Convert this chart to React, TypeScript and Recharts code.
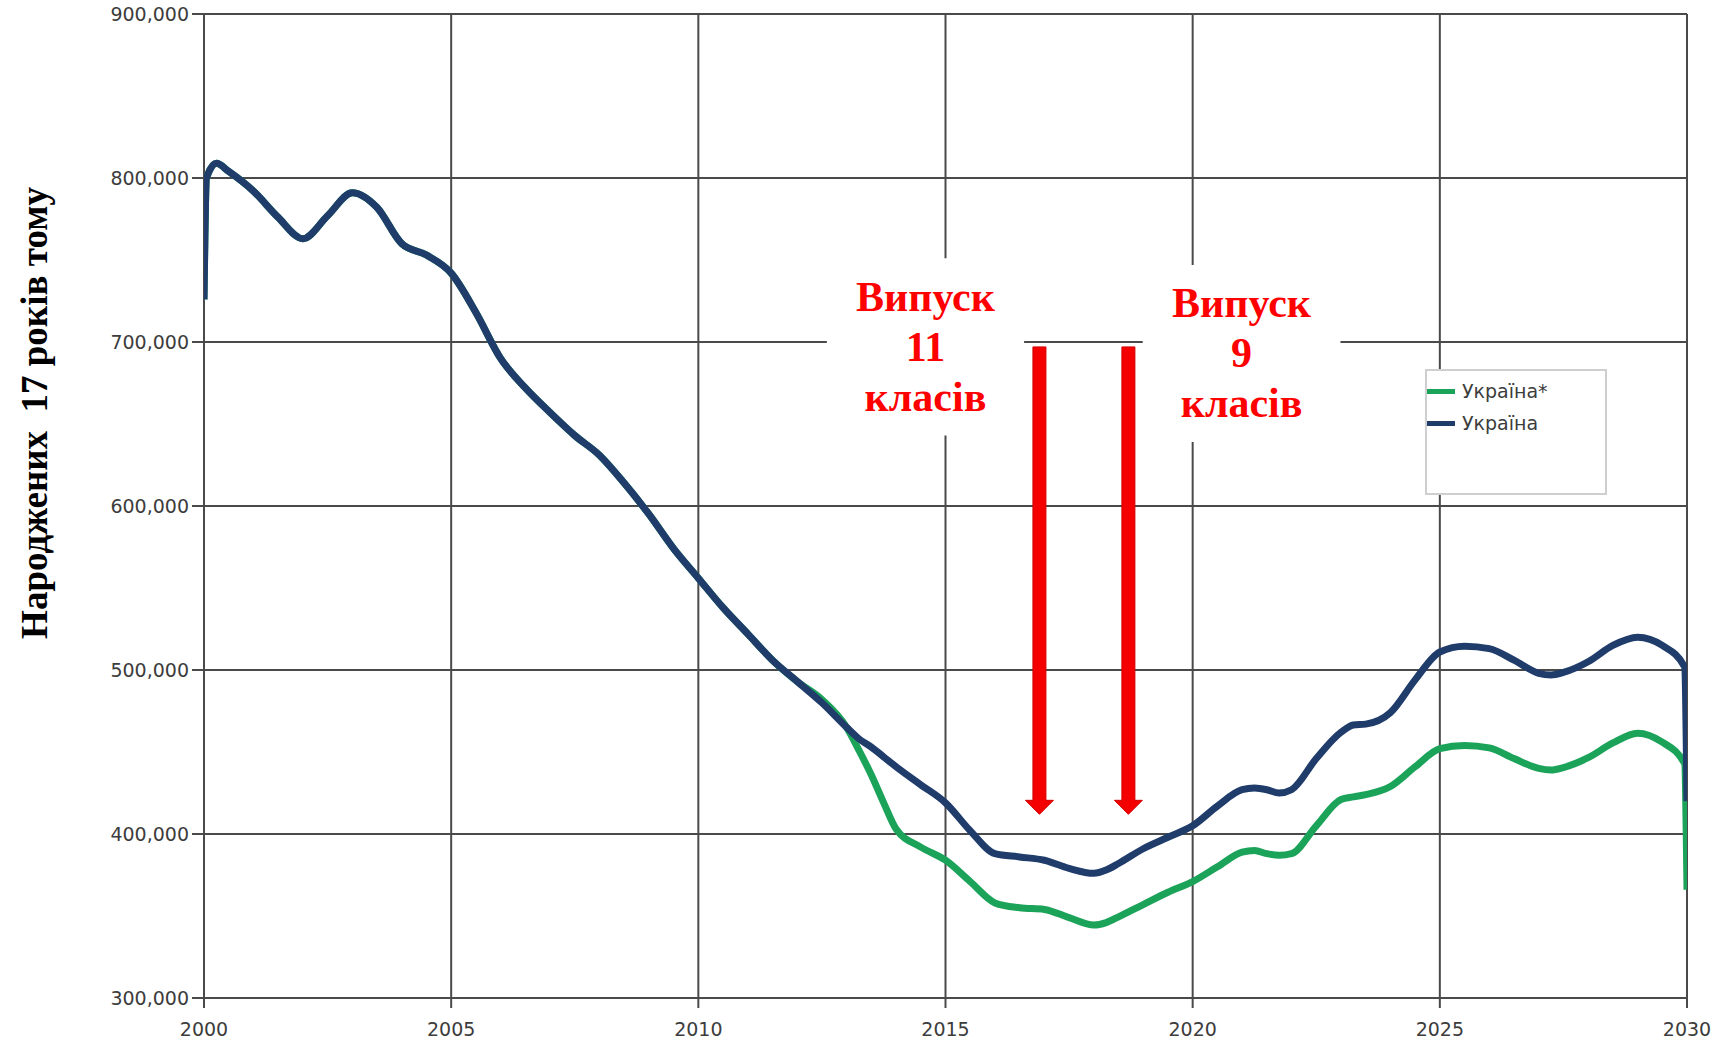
import React from "react";
import {
  LineChart,
  Line,
  XAxis,
  YAxis,
  CartesianGrid,
  Legend,
  ReferenceArea,
  ReferenceLine,
} from "recharts";

// sampled positions along the time axis (years)
const years = [
  2000, 2000.05, 2000.25, 2000.5, 2001, 2001.5, 2002, 2002.5, 2003, 2003.5,
  2004, 2004.5, 2005, 2005.5, 2006, 2006.5, 2007, 2007.5, 2008, 2008.5,
  2009, 2009.5, 2010, 2010.5, 2011, 2011.5, 2012, 2012.5, 2013, 2013.25,
  2013.5, 2013.75, 2014, 2014.5, 2015, 2015.5, 2016, 2016.5, 2017, 2017.5,
  2018, 2018.25, 2018.5, 2019, 2019.5, 2020, 2020.5, 2021, 2021.25, 2021.5,
  2021.75, 2022, 2022.5, 2023, 2023.25, 2023.5, 2024, 2024.5, 2025, 2025.5,
  2026, 2026.5, 2027, 2027.25, 2027.5, 2028, 2028.5, 2029, 2029.5, 2029.95,
  2030,
];

// thousands of births, 17 years earlier
const ukraineStar = [
  726, 800, 809, 804, 792, 776, 763, 777, 791, 782,
  760, 753, 742, 718, 690, 672, 657, 643, 631, 614,
  595, 574, 556, 538, 522, 506, 493, 482, 465, 451,
  436, 419, 403, 392, 384, 371, 358, 355, 354, 349,
  344.5, 346, 349.5, 357, 364.5, 371, 380, 389, 390, 388,
  387, 388, 405, 421, 422.6, 424, 429, 441, 452, 454,
  452.5, 446, 440, 439, 440.5, 446.5, 455.5, 461.5, 456, 443,
  366,
];

const ukraine = [
  726, 800, 809, 804, 792, 776, 763, 777, 791, 782,
  760, 753, 742, 718, 690, 672, 657, 643, 631, 614,
  595, 574, 556, 538, 522, 506, 493, 480, 465, 458,
  453, 447, 441, 430, 419, 402, 388, 386, 384, 379,
  376, 378, 382, 391, 398, 405, 417, 427, 428, 427,
  425, 427, 446, 462, 466.5, 467, 474, 494, 511, 514.5,
  513, 506, 498, 497, 498.5, 505, 515, 520, 515, 502,
  420,
];

const seriesNames = ["Україна*", "Україна"];
const xTicks = [2000, 2005, 2010, 2015, 2020, 2025, 2030];
const yTicks = [300000, 400000, 500000, 600000, 700000, 800000, 900000];
const yLabel = "Народжених  17 років тому";
const label11 = ["Випуск", "11", "класів"];
const label9 = ["Випуск", "9", "класів"];
const arrowYears = [2016.9, 2018.7];
const arrowValues = [697000, 412000];

const data = years.map((year, i) => ({
  year,
  star: ukraineStar[i] * 1000,
  base: ukraine[i] * 1000,
}));

const GREEN = "#1ca35a";
const BLUE = "#1f3c6b";
const GRID = "#4a4a4a";
const tickStyle = { fill: "#3c3c3c", fontSize: 19, fontFamily: "DejaVu Sans" };

function BoxText({ viewBox, lines }: any) {
  const cx = viewBox.x + viewBox.width / 2;
  const cy = viewBox.y + viewBox.height / 2;
  return (
    <g>
      {lines.map((t: string, i: number) => (
        <text
          key={i}
          x={cx}
          y={cy + (i - 1) * 50}
          textAnchor="middle"
          dominantBaseline="central"
          fill="#ff0000"
          fontFamily="'Liberation Serif', 'Times New Roman', serif"
          fontWeight="bold"
          fontSize={42}
        >
          {t}
        </text>
      ))}
    </g>
  );
}

function Arrow(props: any) {
  const { x1, y1, y2 } = props;
  const top = Math.min(y1, y2);
  const tip = Math.max(y1, y2);
  const w = 6.5;
  const hw = 14;
  const hh = 14;
  const pts = [
    [x1 - w, top],
    [x1 + w, top],
    [x1 + w, tip - hh],
    [x1 + hw, tip - hh],
    [x1, tip],
    [x1 - hw, tip - hh],
    [x1 - w, tip - hh],
  ]
    .map((p) => p.join(","))
    .join(" ");
  return <polygon points={pts} fill="#f50000" stroke="#d00000" strokeWidth={1} />;
}

function LegendBox({ payload }: any) {
  // keep the series order of the original legend
  const items = [...(payload || [])].sort(
    (a: any, b: any) => seriesNames.indexOf(a.value) - seriesNames.indexOf(b.value)
  );
  return (
    <div
      style={{
        width: 178,
        height: 118,
        border: "2px solid #cfcfcf",
        background: "#fff",
        paddingTop: 4,
        boxSizing: "content-box",
      }}
    >
      {items.map((p: any) => (
        <div
          key={p.value}
          style={{ display: "flex", alignItems: "center", height: 32 }}
        >
          <span
            style={{
              width: 28,
              height: 5,
              background: p.color,
              marginRight: 7,
              display: "inline-block",
            }}
          />
          <span
            style={{
              fontFamily: "DejaVu Sans",
              fontSize: 19,
              color: "#3c3c3c",
            }}
          >
            {p.value}
          </span>
        </div>
      ))}
    </div>
  );
}

export default function App() {
  return (
    <div style={{ position: "absolute", left: 0, top: 0, background: "#fff" }}>
      <LineChart
        width={1725}
        height={1042}
        data={data}
        margin={{ top: 14, right: 38, bottom: 0, left: 84 }}
      >
        <CartesianGrid stroke={GRID} strokeWidth={2} />
        <XAxis
          dataKey="year"
          type="number"
          domain={[2000, 2030]}
          ticks={xTicks}
          height={44}
          tick={tickStyle}
          tickSize={10}
          tickMargin={15}
          tickLine={{ stroke: GRID, strokeWidth: 2 }}
          axisLine={false}
          allowDataOverflow
        />
        <YAxis
          type="number"
          domain={[300000, 900000]}
          ticks={yTicks}
          width={120}
          tick={tickStyle}
          tickSize={12}
          tickMargin={3}
          tickLine={{ stroke: GRID, strokeWidth: 2 }}
          axisLine={false}
          tickFormatter={(v) => Number(v).toLocaleString("en-US")}
          label={(props: any) => (
            <text
              x={47}
              y={props.viewBox.y + 399}
              transform={`rotate(-90, 47, ${props.viewBox.y + 399})`}
              textAnchor="middle"
              fontFamily="'Liberation Serif', 'Times New Roman', serif"
              fontWeight="bold"
              fontSize={37}
              fill="#000"
              style={{ whiteSpace: "pre" }}
            >
              {yLabel}
            </text>
          )}
        />
        <ReferenceArea
          x1={2012.6}
          x2={2016.59}
          y1={643000}
          y2={751000}
          fill="#fff"
          fillOpacity={1}
          stroke="none"
          label={(props: any) => <BoxText viewBox={props.viewBox} lines={label11} />}
        />
        <ReferenceArea
          x1={2018.99}
          x2={2022.99}
          y1={639000}
          y2={747000}
          fill="#fff"
          fillOpacity={1}
          stroke="none"
          label={(props: any) => <BoxText viewBox={props.viewBox} lines={label9} />}
        />
        {arrowYears.map((yr) => (
          <ReferenceLine
            key={yr}
            segment={[
              { x: yr, y: arrowValues[0] },
              { x: yr, y: arrowValues[1] },
            ]}
            shape={(p: any) => <Arrow {...p} />}
          />
        ))}
        <Line
          type="monotone"
          dataKey="star"
          name={seriesNames[0]}
          stroke={GREEN}
          strokeWidth={7}
          dot={false}
          isAnimationActive={false}
        />
        <Line
          type="monotone"
          dataKey="base"
          name={seriesNames[1]}
          stroke={BLUE}
          strokeWidth={7}
          dot={false}
          isAnimationActive={false}
        />
        <Legend
          layout="vertical"
          align="center"
          verticalAlign="middle"
          wrapperStyle={{ left: 1425, top: 369, width: 182, height: 126 }}
          content={(p: any) => <LegendBox payload={p.payload} />}
        />
      </LineChart>
    </div>
  );
}
